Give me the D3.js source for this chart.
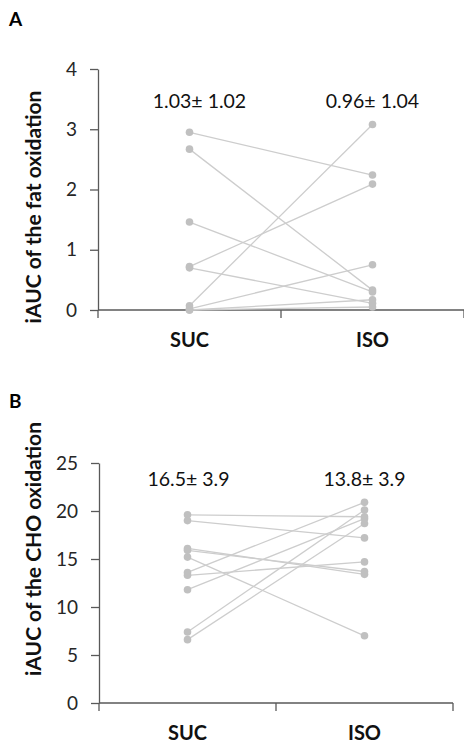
<!DOCTYPE html>
<html>
<head>
<meta charset="utf-8">
<script src="https://cdn.jsdelivr.net/npm/d3@7"></script>
<style>
  body { margin: 0; background: #fff; }
  svg { display: block; font-family: Lato, "Open Sans", sans-serif; }
</style>
</head>
<body>
<svg id="chart" width="464" height="744"></svg>
<script>
const groups = ["SUC", "ISO"];

// panel A: iAUC of fat oxidation, one entry per subject (SUC, ISO)
const fatSUC = [2.95, 2.67, 1.46, 0.72, 0.70, 0.07, 0.02, 0.00, 0.00];
const fatISO = [2.24, 0.33, 0.30, 2.09, 0.11, 3.08, 0.75, 0.17, 0.05];
const fatTicks = [0, 1, 2, 3, 4];
const fatStats = ["1.03\u00b1 1.02", "0.96\u00b1 1.04"];

// panel B: iAUC of CHO oxidation
const choSUC = [19.6, 19.0, 16.1, 15.9, 15.2, 13.6, 13.3, 11.8, 7.4, 6.6];
const choISO = [19.4, 17.2, 13.4, 13.7, 7.0, 20.9, 14.7, 19.2, 20.1, 18.7];
const choTicks = [0, 5, 10, 15, 20, 25];
const choStats = ["16.5\u00b1 3.9", "13.8\u00b1 3.9"];

const svg = d3.select("#chart");

const panels = [
  {letter: "A", title: "iAUC of the fat oxidation", suc: fatSUC, iso: fatISO, ticks: fatTicks,
   stats: fatStats, x0: 98, x1: 464, yTop: 69, yBot: 310, statsY: 108, statShift: 10, letterY: 26, titleY: 207},
  {letter: "B", title: "iAUC of the CHO oxidation", suc: choSUC, iso: choISO, ticks: choTicks,
   stats: choStats, x0: 99, x1: 453, yTop: 463, yBot: 703, statsY: 486, statShift: 1, letterY: 408, titleY: 549}
];

panels.forEach(p => {
  const g = svg.append("g");
  const x = d3.scaleBand().domain(groups).range([p.x0, p.x1]);
  const y = d3.scaleLinear().domain([0, d3.max(p.ticks)]).range([p.yBot, p.yTop]);
  const cx = k => x(k) + x.bandwidth() / 2;

  // panel letter
  g.append("text")
    .attr("x", 9).attr("y", p.letterY)
    .attr("font-size", 19).attr("font-weight", "bold")
    .text(p.letter);

  // y axis
  const yAxis = g.append("g")
    .attr("transform", `translate(${p.x0},0)`)
    .call(d3.axisLeft(y).tickValues(p.ticks).tickFormat(d3.format("d"))
      .tickSize(8).tickPadding(13).tickSizeOuter(0));
  yAxis.select(".domain").attr("stroke", "#595959").attr("stroke-width", 1.3);
  yAxis.selectAll(".tick line").attr("stroke", "#595959").attr("stroke-width", 1.3);
  yAxis.selectAll(".tick text").attr("font-size", 19).attr("fill", "#262626")
    .attr("font-family", "Lato, sans-serif");

  // y title
  g.append("text")
    .attr("transform", `translate(41,${p.titleY}) rotate(-90)`)
    .attr("text-anchor", "middle")
    .attr("font-size", 21).attr("font-weight", "bold").attr("fill", "#111")
    .text(p.title);

  // x axis: baseline with ticks at band edges
  g.append("line")
    .attr("x1", p.x0).attr("x2", p.x1)
    .attr("y1", y(0)).attr("y2", y(0))
    .attr("stroke", "#595959").attr("stroke-width", 1.3);
  const edges = [p.x0, p.x0 + x.step(), p.x1];
  g.selectAll(".xtick").data(edges).join("line")
    .attr("x1", d => d).attr("x2", d => d)
    .attr("y1", y(0)).attr("y2", y(0) + 8)
    .attr("stroke", "#595959").attr("stroke-width", 1.3);

  g.selectAll(".xlab").data(groups).join("text")
    .attr("x", d => cx(d)).attr("y", y(0) + 37)
    .attr("text-anchor", "middle")
    .attr("font-size", 20).attr("font-weight", "bold").attr("fill", "#111")
    .text(d => d);

  // paired lines
  const pairs = p.suc.map((v, i) => [v, p.iso[i]]);
  g.selectAll(".pair").data(pairs).join("line")
    .attr("x1", cx("SUC")).attr("x2", cx("ISO"))
    .attr("y1", d => y(d[0])).attr("y2", d => y(d[1]))
    .attr("stroke", "#cdcdcd").attr("stroke-width", 1.3);

  // points
  const pts = [];
  p.suc.forEach(v => pts.push(["SUC", v]));
  p.iso.forEach(v => pts.push(["ISO", v]));
  g.selectAll(".pt").data(pts).join("circle")
    .attr("cx", d => cx(d[0])).attr("cy", d => y(d[1]))
    .attr("r", 3.8).attr("fill", "#c0c0c0");

  // mean ± sd
  g.selectAll(".stat").data(groups).join("text")
    .attr("x", (d, i) => cx(d) + (i === 0 ? p.statShift : 0)).attr("y", p.statsY)
    .attr("text-anchor", "middle")
    .attr("font-size", 19.5).attr("fill", "#111")
    .text((d, i) => p.stats[i]);
});
</script>
</body>
</html>
